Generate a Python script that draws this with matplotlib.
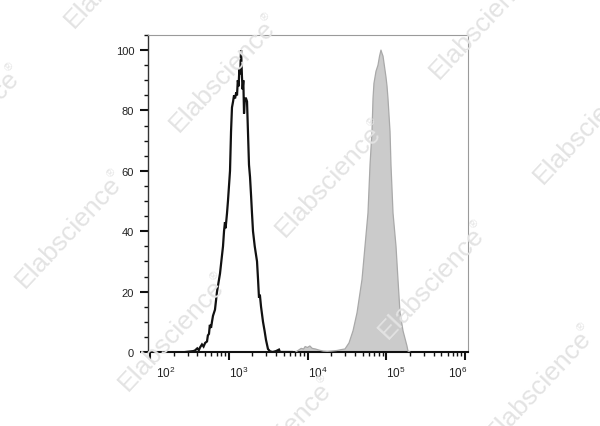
import numpy as np
import matplotlib
matplotlib.use("Agg")
import matplotlib.pyplot as plt
import matplotlib.transforms as mtransforms
from matplotlib.ticker import FixedLocator, LogLocator, MultipleLocator, NullFormatter
from matplotlib.textpath import TextPath
from matplotlib.font_manager import FontProperties

plt.rcParams['font.family'] = ['Liberation Sans', 'DejaVu Sans']

# ---- data (log10 of fluorescence intensity, event count %) ----
black_log_x = [2.45, 2.55, 2.571, 2.60, 2.62, 2.635, 2.66, 2.68, 2.70, 2.724, 2.735, 2.749,
               2.76, 2.775, 2.787, 2.80, 2.825, 2.851, 2.87, 2.889, 2.91, 2.927, 2.94, 2.952,
               2.96, 2.978, 2.99, 3.003, 3.016, 3.029, 3.041, 3.055, 3.067, 3.08, 3.095,
               3.105, 3.115, 3.125, 3.135, 3.145, 3.156, 3.163, 3.168, 3.176, 3.185, 3.194,
               3.205, 3.219, 3.232, 3.244, 3.257, 3.270, 3.283, 3.295, 3.308, 3.33, 3.359,
               3.372, 3.384, 3.395, 3.410, 3.435, 3.455, 3.473, 3.498, 3.524, 3.56, 3.60,
               3.638, 3.65, 3.80]
black_count = [0, 0.3, 0.5, 1.2, 0.6, 1.5, 2.5, 1.8, 3.0, 3.5, 5.5, 6,
               9, 8, 10, 12, 14, 20, 23, 26, 31, 35, 40, 43,
               41, 46, 50, 55, 60, 73, 81, 83, 85, 84, 86,
               85, 90, 88, 94, 92, 100, 95, 91, 87, 90, 79,
               84, 84, 83, 73, 62, 58, 52, 46, 40, 35, 30,
               24, 18, 19, 15, 10, 7, 4, 1, 0.2, 0, 0.3,
               0.8, 0, 0]

gray_log_x = [3.85, 3.88, 3.92, 3.95, 3.97, 4.00, 4.03, 4.06, 4.10, 4.15, 4.20, 4.25, 4.30,
              4.375, 4.43, 4.476, 4.527, 4.578, 4.629, 4.692, 4.730, 4.768, 4.794, 4.819,
              4.832, 4.844, 4.857, 4.870, 4.895, 4.915, 4.933, 4.945, 4.959, 4.997, 5.010,
              5.022, 5.048, 5.060, 5.086, 5.124, 5.149, 5.175, 5.213, 5.263, 5.276, 5.30]
gray_count = [0, 0.5, 1.2, 1.0, 1.8, 1.5, 2.0, 1.2, 1.0, 0.6, 0.3, 0.2, 0.3,
              0.5, 0.8, 1, 3, 7, 13, 24, 35, 46, 62, 73,
              84, 89, 91, 93, 95, 98, 100, 99, 98, 91, 88,
              84, 73, 62, 46, 35, 24, 13, 7, 2, 0.3, 0]

x_tick_exponents = [2, 3, 4, 5, 6]
y_ticks = [0, 20, 40, 60, 80, 100]
watermark_word = "Elabscience"
watermark_mark = "®"

# ---- figure ----
W, H = 600, 427
fig = plt.figure(figsize=(W / 100, H / 100), dpi=100)
fig.patch.set_facecolor('white')

# watermarks (behind the axes): word + small raised registered mark
wm_size = 19
wm_mark_size = 8
wm_color = '#e3e3e3'
wm_angle = np.deg2rad(47)
ux, uy = np.cos(wm_angle), np.sin(wm_angle)
px_, py_ = -uy, ux
fp = FontProperties(family='Liberation Sans', size=wm_size)
word_w = TextPath((0, 0), watermark_word, size=wm_size, prop=fp).get_extents().width * 100 / 72
total_w = word_w + 6
wm_centers = [(118, -29), (-33, 125), (223, 75), (69, 231), (329, 180), (483, 22),
              (587, 127), (432, 282), (539, 385), (279, 437), (172, 334)]
for cx, cy in wm_centers:
    dcx, dcy = cx, H - cy
    sx = dcx - total_w / 2 * ux - 7 * px_
    sy = dcy - total_w / 2 * uy - 7 * py_
    fig.text(sx / W, sy / H, watermark_word, rotation=47, rotation_mode='anchor',
             ha='left', va='baseline', fontsize=wm_size, color=wm_color, zorder=0)
    mx = sx + (word_w + 1) * ux + 12 * px_
    my = sy + (word_w + 1) * uy + 12 * py_
    fig.text(mx / W, my / H, watermark_mark, rotation=47, rotation_mode='anchor',
             ha='left', va='baseline', fontsize=wm_mark_size, color=wm_color, zorder=0)

ax = fig.add_axes([148 / W, 1 - 353 / H, 320 / W, 317 / H])
ax.set_facecolor('none')
ax.set_xscale('log')

bx = np.power(10.0, black_log_x)
gx = np.power(10.0, gray_log_x)

ax.fill_between(gx, 0, gray_count, facecolor='#cbcbcb', edgecolor='none', zorder=2)
ax.plot(gx, gray_count, color='#a9a9a9', lw=0.9, zorder=3)
ax.plot(bx, black_count, color='#111111', lw=1.6, zorder=4, solid_joinstyle='miter')

ax.set_xlim(10 ** (2 - 2 / 78.75), 10 ** (6 + 3 / 78.75))
ax.set_ylim(0, 105)

ax.xaxis.set_major_locator(FixedLocator([10.0 ** e for e in x_tick_exponents]))
ax.xaxis.set_minor_locator(LogLocator(base=10, subs=np.arange(2, 10), numticks=20))
ax.xaxis.set_minor_formatter(NullFormatter())
ax.set_xticklabels([r'$\mathregular{10^{%d}}$' % e for e in x_tick_exponents])

ax.yaxis.set_major_locator(FixedLocator(y_ticks))
ax.yaxis.set_minor_locator(MultipleLocator(5))
ax.set_yticklabels([str(v) for v in y_ticks])

ax.tick_params(axis='both', which='major', direction='out', length=6, width=1.5,
               color='#111111', labelsize=8, labelcolor='#222222')
ax.tick_params(axis='both', which='minor', direction='out', length=3, width=1.0,
               color='#111111')
ax.tick_params(axis='x', which='major', pad=3, labelsize=8.5)
ax.tick_params(axis='y', which='major', pad=4)

for side in ['top', 'right']:
    ax.spines[side].set_color('#9a9a9a')
    ax.spines[side].set_linewidth(0.8)
ax.spines['left'].set_color('#333333')
ax.spines['left'].set_linewidth(1.0)
ax.spines['bottom'].set_color('#111111')
ax.spines['bottom'].set_linewidth(1.5)

# x tick label placement as in the reference
offsets = [6, 0, 0, 0, 2]
aligns = ['left', 'left', 'left', 'left', 'right']
for tick, dx, ha in zip(ax.xaxis.get_major_ticks(), offsets, aligns):
    lab = tick.label1
    lab.set_horizontalalignment(ha)
    lab.set_transform(lab.get_transform() +
                      mtransforms.ScaledTranslation(dx / 100, 0, fig.dpi_scale_trans))

fig.savefig('out.png', dpi=100, facecolor='white')
